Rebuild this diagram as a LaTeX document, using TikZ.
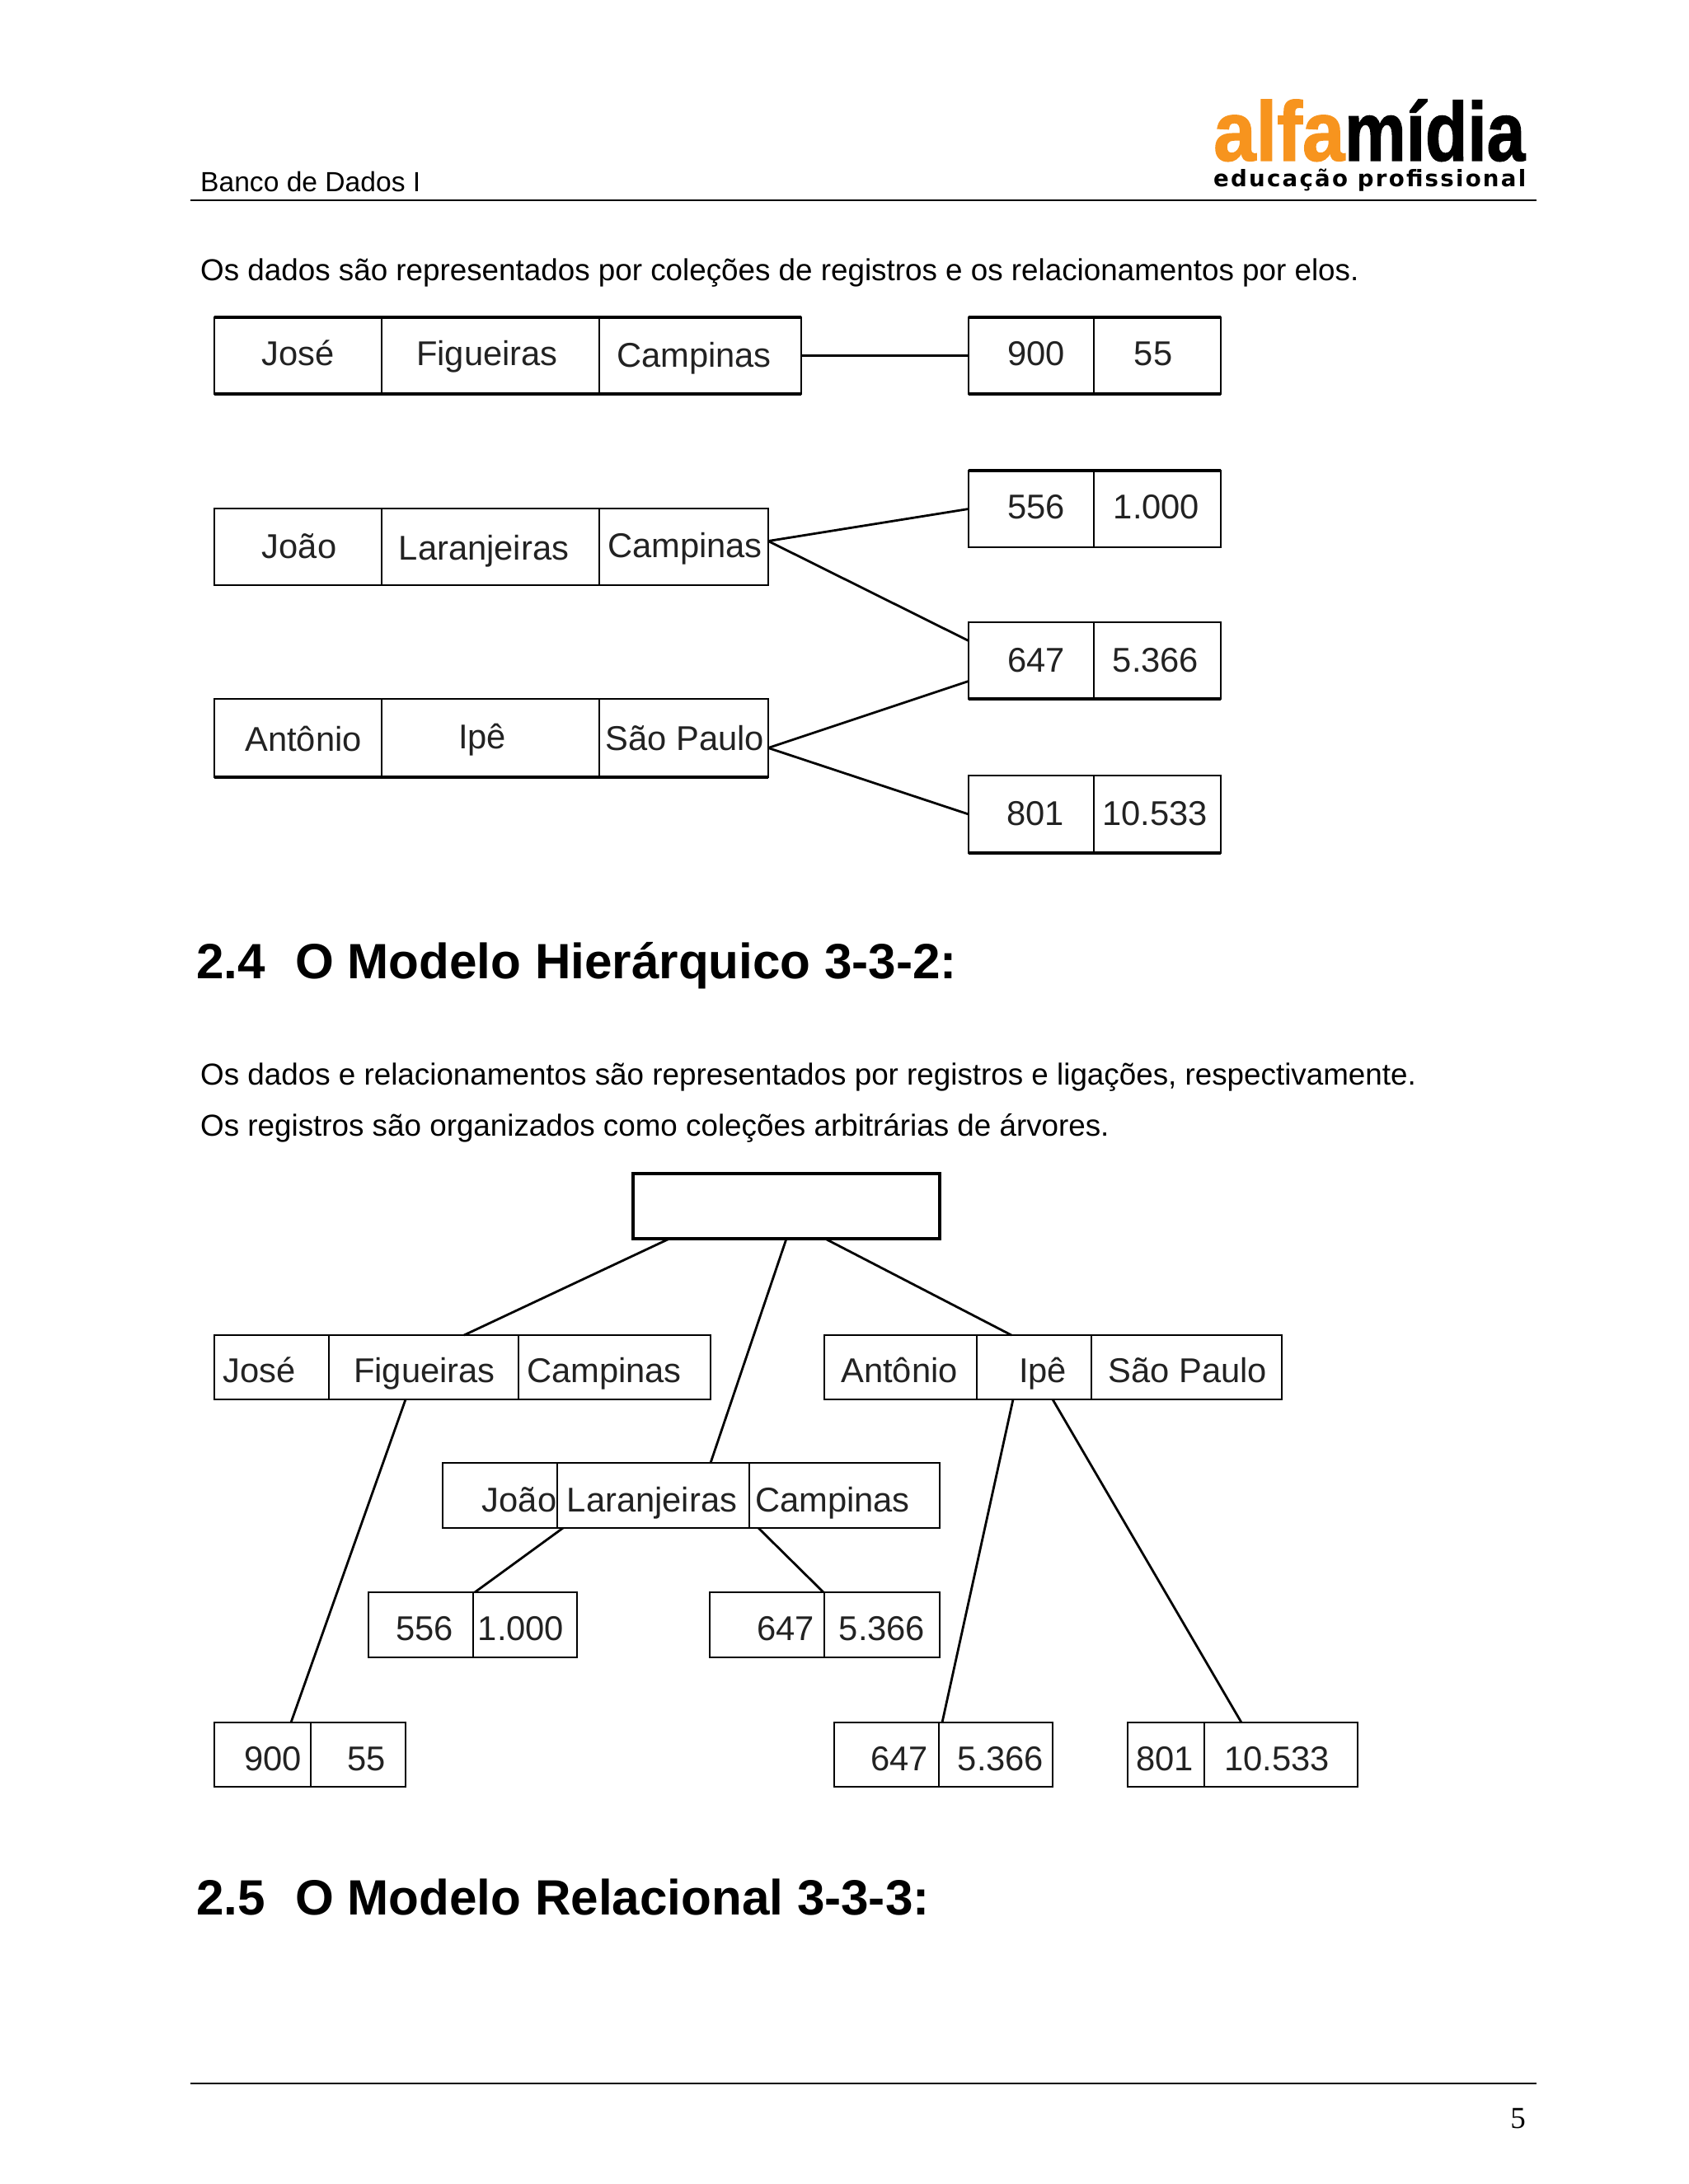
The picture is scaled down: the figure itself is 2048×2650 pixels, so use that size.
\documentclass[tikz,border=0pt]{standalone}
\usepackage{fontspec}
\usepackage{graphicx}
\setmainfont{Liberation Sans}
\newfontfamily\timesf{Liberation Serif}
\newfontfamily\dejaf{DejaVu Sans}
\definecolor{logoorange}{HTML}{F7941E}
\definecolor{celltext}{HTML}{222222}
\tikzset{
  bodytext/.style={anchor=base west,inner sep=0pt,font=\fontsize{36.8}{44}\selectfont},
  headingtext/.style={anchor=base west,inner sep=0pt,font=\bfseries\fontsize{60.2}{70}\selectfont},
  cellbox/.style={draw,line width=2pt,inner sep=0pt,outer sep=0pt},
  celllabel/.style={anchor=base,inner sep=0pt,text=celltext,font=\fontsize{41.7}{49}\selectfont},
  heavyedge/.style={line width=4.5pt},
  linkline/.style={line width=2.8pt},
  pagerule/.style={line width=2.5pt}
}
\newcommand{\cellat}[7]{% name x0 y0 x1 y1 text "tx,baseline"
  \pgfmathsetmacro{\cw}{#4-#2}\pgfmathsetmacro{\ch}{#5-#3}
  \pgfmathsetmacro{\cx}{(#2+#4)/2}\pgfmathsetmacro{\cy}{(#3+#5)/2}
  \node[cellbox,minimum width=\cw pt,minimum height=\ch pt] (#1) at (\cx,\cy) {};
  \node[celllabel] (#1-t) at (#7) {#6};
}
\newcommand{\heavy}[2]{\draw[heavyedge] (#1.#2 west) -- (#1.#2 east);}
\begin{document}
\begin{tikzpicture}[x=1pt,y=-1pt]
\useasboundingbox (0,0) rectangle (2048,2650);
\fill[white] (0,0) rectangle (2048,2650);

% header
\node[bodytext,font=\fontsize{33.6}{40}\selectfont] (hdr) at (243,232) {Banco de Dados I};
\coordinate (ruleAl) at (231,243);
\coordinate (ruleAr) at (1864,243);
\draw[pagerule] (ruleAl) -- (ruleAr);
\node[inner sep=0pt,anchor=south west,text=logoorange] (logoA) at (1472,196) {\resizebox{159pt}{74pt}{\bfseries\addfontfeature{FakeBold=1.5}alfa}};
\node[inner sep=0pt,anchor=south west] (logoB) at (1631,196) {\resizebox{219pt}{74pt}{\bfseries\addfontfeature{FakeBold=1.5}mídia}};
\node[inner sep=0pt,anchor=base west] (logoC) at (1472,226) {\resizebox{379pt}{!}{\dejaf\bfseries\addfontfeature{LetterSpace=8}educação profissional}};

% body
\node[bodytext] (p1) at (243,340) {Os dados são representados por coleções de registros e os relacionamentos por elos.};

% network
\cellat{a1}{260}{385}{463}{478}{José}{362,443}
\cellat{a2}{463}{385}{727}{478}{Figueiras}{591,443}
\cellat{a3}{727}{385}{972}{478}{Campinas}{842,445}
\cellat{av}{1175}{385}{1327}{478}{900}{1257,443}
\cellat{aw}{1327}{385}{1481}{478}{55}{1399,443}
\heavy{a1}{north}\heavy{a2}{north}\heavy{a3}{north}\heavy{av}{north}\heavy{aw}{north}
\heavy{a1}{south}\heavy{a2}{south}\heavy{a3}{south}\heavy{av}{south}\heavy{aw}{south}
\draw[linkline] (a3.east) -- (av.west);

\cellat{b1}{260}{617}{463}{710}{João}{363,677}
\cellat{b2}{463}{617}{727}{710}{Laranjeiras}{587,679}
\cellat{b3}{727}{617}{932}{710}{Campinas}{831,676}
\cellat{cv}{1175}{571}{1327}{664}{556}{1257,629}
\cellat{cw}{1327}{571}{1481}{664}{1.000}{1403,629}
\heavy{cv}{north}\heavy{cw}{north}
\cellat{dv}{1175}{755}{1327}{848}{647}{1257,815}
\cellat{dw}{1327}{755}{1481}{848}{5.366}{1402,815}
\heavy{dv}{south}\heavy{dw}{south}
\cellat{e1}{260}{848}{463}{943}{Antônio}{368,911}
\cellat{e2}{463}{848}{727}{943}{Ipê}{585,908}
\cellat{e3}{727}{848}{932}{943}{São Paulo}{831,910}
\heavy{e1}{south}\heavy{e2}{south}\heavy{e3}{south}
\cellat{fv}{1175}{941}{1327}{1035}{801}{1256,1001}
\cellat{fw}{1327}{941}{1481}{1035}{10.533}{1401,1001}
\heavy{fv}{south}\heavy{fw}{south}
\draw[linkline] ([yshift=7pt]b3.east) -- (cv.west);
\draw[linkline] ([yshift=7pt]b3.east) -- ([yshift=24pt]dv.west);
\draw[linkline] ([yshift=-12pt]e3.east) -- ([yshift=-25pt]dv.west);
\draw[linkline] ([yshift=-12pt]e3.east) -- (fv.west);

% heading 2.4
\node[headingtext] (h1n) at (238,1187) {2.4};
\node[headingtext] (h1t) at (358,1187) {O Modelo Hierárquico 3-3-2:};
\node[bodytext] (p2) at (243,1316) {Os dados e relacionamentos são representados por registros e ligações, respectivamente.};
\node[bodytext] (p3) at (243,1378) {Os registros são organizados como coleções arbitrárias de árvores.};

% tree
\pgfmathsetmacro{\rw}{1140-768}\pgfmathsetmacro{\rh}{1503-1424}
\node[cellbox,line width=4.5pt,minimum width=\rw pt,minimum height=\rh pt] (root) at (954,1463.5) {};
\cellat{g1}{260}{1620}{399}{1698}{José}{315,1677}
\cellat{g2}{399}{1620}{629}{1698}{Figueiras}{515,1677}
\cellat{g3}{629}{1620}{862}{1698}{Campinas}{733,1677}
\cellat{h1}{1000}{1620}{1185}{1698}{Antônio}{1091,1677}
\cellat{h2}{1185}{1620}{1324}{1698}{Ipê}{1265,1677}
\cellat{h3}{1324}{1620}{1555}{1698}{São Paulo}{1441,1677}
\cellat{i1}{537}{1775}{676}{1854}{João}{630,1834}
\cellat{i2}{676}{1775}{909}{1854}{Laranjeiras}{791,1834}
\cellat{i3}{909}{1775}{1140}{1854}{Campinas}{1010,1834}
\cellat{jv}{447}{1932}{574}{2011}{556}{515,1990}
\cellat{jw}{574}{1932}{700}{2011}{1.000}{632,1990}
\cellat{kv}{861}{1932}{1000}{2011}{647}{953,1990}
\cellat{kw}{1000}{1932}{1140}{2011}{5.366}{1070,1990}
\cellat{lv}{260}{2090}{377}{2168}{900}{331,2148}
\cellat{lw}{377}{2090}{492}{2168}{55}{445,2148}
\cellat{mv}{1012}{2090}{1139}{2168}{647}{1091,2148}
\cellat{mw}{1139}{2090}{1277}{2168}{5.366}{1214,2148}
\cellat{nv}{1368}{2090}{1461}{2168}{801}{1413,2148}
\cellat{nw}{1461}{2090}{1647}{2168}{10.533}{1549,2148}
\draw[linkline] ([xshift=44pt]root.south west) -- ([xshift=164pt]g2.north west);
\draw[linkline] (root.south) -- ([xshift=186pt]i2.north west);
\draw[linkline] ([xshift=233pt]root.south west) -- ([xshift=42pt]h2.north west);
\draw[linkline] ([xshift=93pt]g2.south west) -- ([xshift=93pt]lv.north west);
\draw[linkline] ([xshift=7pt]i2.south west) -- ([xshift=2pt]jw.north west);
\draw[linkline] ([xshift=11pt]i3.south west) -- ([xshift=138pt]kv.north west);
\draw[linkline] ([xshift=44pt]h2.south west) -- ([xshift=131pt]mv.north west);
\draw[linkline] ([xshift=92pt]h2.south west) -- ([xshift=45pt]nw.north west);

% heading 2.5
\node[headingtext] (h2n) at (238,2323) {2.5};
\node[headingtext] (h2t) at (358,2323) {O Modelo Relacional 3-3-3:};

% footer
\coordinate (ruleBl) at (231,2528);
\coordinate (ruleBr) at (1864,2528);
\draw[pagerule] (ruleBl) -- (ruleBr);
\node[inner sep=0pt,anchor=base east,font=\timesf\fontsize{37}{44}\selectfont] (pg) at (1851,2582) {5};
\end{tikzpicture}
\end{document}
